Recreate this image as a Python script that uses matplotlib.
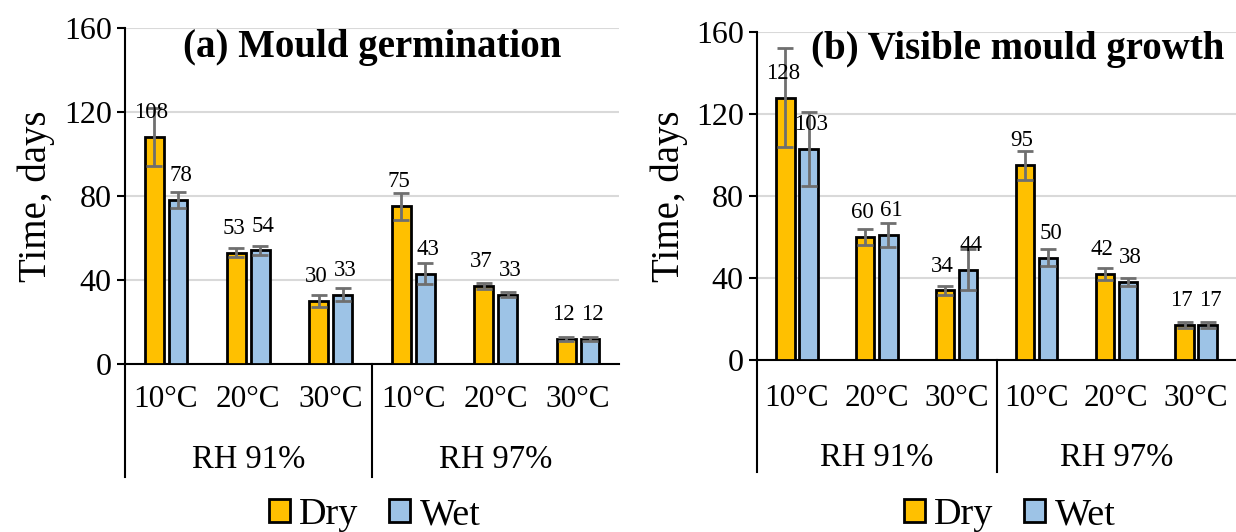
import numpy as np
import matplotlib
matplotlib.use('Agg')
from matplotlib import pyplot as plt
from matplotlib.patches import Patch
import matplotlib.transforms as mtransforms

plt.rcParams['font.family'] = ['Liberation Serif', 'DejaVu Serif']

temps = ['10°C', '20°C', '30°C', '10°C', '20°C', '30°C']
groups = ['RH 91%', 'RH 97%']

# (a) mould germination
germ_dry = [108, 53, 30, 75, 37, 12]
germ_wet = [78, 54, 33, 43, 33, 12]
germ_dry_err = [14, 2, 3, 6.5, 1.5, 1]
germ_wet_err = [4, 2, 3, 5, 1, 1]

# (b) visible mould growth
vis_dry = [128, 60, 34, 95, 42, 17]
vis_wet = [103, 61, 44, 50, 38, 17]
vis_dry_err = [24, 4, 2, 7, 3, 1.5]
vis_wet_err = [18, 6, 10, 4, 2, 1.5]

DRY = '#FFC000'
WET = '#9DC3E6'
ERR = '#6f6f6f'

fig = plt.figure(figsize=(12.36, 5.32), dpi=100)
ax1 = fig.add_axes([0.101, 0.316, 0.400, 0.632])
ax2 = fig.add_axes([0.6125, 0.323, 0.3875, 0.617])


def panel(ax, dry, wet, dry_err, wet_err, title, cat_y, grp_y, sep_y):
    x = np.arange(len(temps))
    w = 0.23
    off = 0.145
    ax.bar(x - off, dry, w, color=DRY, edgecolor='black', linewidth=2, zorder=3)
    ax.bar(x + off, wet, w, color=WET, edgecolor='black', linewidth=2, zorder=3)
    ax.errorbar(x - off, dry, yerr=dry_err, fmt='none', ecolor=ERR,
                elinewidth=2, capsize=5.5, capthick=2, zorder=4)
    ax.errorbar(x + off, wet, yerr=wet_err, fmt='none', ecolor=ERR,
                elinewidth=2, capsize=5.5, capthick=2, zorder=4)
    # labels nudged apart a little so neighbouring numbers don't touch
    for xi, v in zip(x - off, dry):
        ax.annotate(str(v), (xi, v), xytext=(-2, 10), textcoords='offset points',
                    ha='center', va='bottom', fontsize=16.5, zorder=5)
    for xi, v in zip(x + off, wet):
        ax.annotate(str(v), (xi, v), xytext=(2, 10), textcoords='offset points',
                    ha='center', va='bottom', fontsize=16.5, zorder=5)

    ax.set_xlim(-0.5, 5.5)
    ax.set_ylim(0, 160)
    ax.set_yticks([0, 40, 80, 120, 160])
    ax.yaxis.grid(True, color='#d9d9d9', linewidth=1.5, zorder=0)
    ax.set_axisbelow(True)
    ax.tick_params(axis='y', labelsize=23, length=6, width=1.5, direction='out')
    ax.set_ylabel('Time, days', fontsize=28, labelpad=6)
    ax.set_xticks([])
    for s in ['top', 'right']:
        ax.spines[s].set_visible(False)
    ax.spines['left'].set_linewidth(1.5)
    ax.spines['bottom'].set_linewidth(1.5)

    trans = mtransforms.blended_transform_factory(ax.transData, ax.transAxes)
    for xi, t in zip(x, temps):
        ax.text(xi, cat_y, t, transform=trans, ha='center', va='center', fontsize=22.5)
    ax.text(1, grp_y, groups[0], transform=trans, ha='center', va='center', fontsize=23.5)
    ax.text(4, grp_y, groups[1], transform=trans, ha='center', va='center', fontsize=23.5)
    for xs in [-0.5, 2.5]:
        ax.plot([xs, xs], [0, sep_y], transform=trans, color='black',
                linewidth=1.5, clip_on=False)

    ax.text(0.5, 0.94, title, transform=ax.transAxes, ha='center', va='center',
            fontsize=28, fontweight='bold', zorder=6)


panel(ax1, germ_dry, germ_wet, germ_dry_err, germ_wet_err,
      '(a) Mould germination', -0.107, -0.286, -0.336)
panel(ax2, vis_dry, vis_wet, vis_dry_err, vis_wet_err,
      '(b) Visible mould growth', -0.116, -0.296, -0.341)
ax2.texts[-1].set_position((0.545, 0.945))

handles = [Patch(facecolor=DRY, edgecolor='black', linewidth=2, label='Dry'),
           Patch(facecolor=WET, edgecolor='black', linewidth=2, label='Wet')]
for cx in [0.303, 0.817]:
    fig.legend(handles=handles, loc='center', bbox_to_anchor=(cx, 0.032), ncol=2,
               frameon=False, fontsize=27.5, handlelength=0.55, handleheight=0.55,
               handletextpad=0.25, columnspacing=0.8, borderaxespad=0)

fig.savefig('out.png', dpi=100)
